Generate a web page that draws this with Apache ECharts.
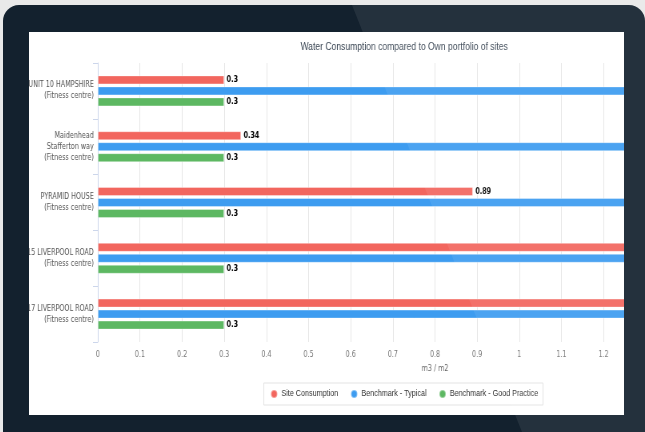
<!DOCTYPE html>
<html>
<head>
<meta charset="utf-8">
<script src="https://cdn.jsdelivr.net/npm/echarts@6/dist/echarts.min.js"></script>
<style>
  html, body { margin: 0; padding: 0; width: 645px; height: 432px; overflow: hidden; background: #e9e9e9; }
  #frame { position: absolute; left: 3px; top: 5px; width: 642px; height: 460px; background: #13212e; border-radius: 16px; }
  #panel { position: absolute; left: 29px; top: 32px; width: 595px; height: 383px; background: #fff; overflow: hidden; }
  #chart { position: absolute; left: 0; top: 0; width: 938px; height: 383px; transform: scaleX(0.8); transform-origin: 0 0; }
  #glare { position: absolute; left: 0; top: 0; width: 645px; height: 432px; pointer-events: none;
           background: rgba(255,255,255,0.075); clip-path: polygon(350px 0, 645px 0, 645px 432px, 522px 432px); }
</style>
</head>
<body>
<div id="frame"></div>
<div id="panel"><div id="chart"></div></div>
<div id="glare"></div>
<script>
const chartTitle = 'Water Consumption compared to Own portfolio of sites';
const categories = [
  'UNIT 10 HAMPSHIRE\n(Fitness centre)',
  'Maidenhead\nStafferton way\n(Fitness centre)',
  'PYRAMID HOUSE\n(Fitness centre)',
  '15 LIVERPOOL ROAD\n(Fitness centre)',
  '17 LIVERPOOL ROAD\n(Fitness centre)'
];
const seriesNames = ['Site Consumption', 'Benchmark - Typical', 'Benchmark - Good Practice'];
const siteConsumption = [0.3, 0.34, 0.89, 1.32, 1.45];
const benchmarkTypical = [1.5, 1.5, 1.5, 1.5, 1.5];
const benchmarkGoodPractice = [0.3, 0.3, 0.3, 0.3, 0.3];
const xAxisName = 'm3 / m2';
const xMin = 0, xMax = 1.6, xStep = 0.1;

const colors = ['#f2665e', '#3d9cf0', '#5db862'];
const labelFont = 'DejaVu Sans, Verdana, sans-serif';
const textFont = 'Liberation Sans, Arial, sans-serif';

const valueLabel = {
  show: true, position: 'right', distance: 3,
  color: '#000', fontWeight: 'bold', fontSize: 8, fontFamily: labelFont,
  textBorderColor: '#fff', textBorderWidth: 1
};
const barStyle = { borderColor: 'rgba(255,255,255,0.35)', borderWidth: 1 };

const chart = echarts.init(document.getElementById('chart'), null, { renderer: 'canvas' });
chart.setOption({
  animation: false,
  color: colors,
  title: {
    text: chartTitle, left: 'center', top: 5,
    textStyle: { color: '#3a4654', fontSize: 10.7, fontWeight: 'normal', fontFamily: textFont }
  },
  legend: {
    data: seriesNames, left: 'center', top: 351,
    icon: 'circle', itemWidth: 8, itemHeight: 8, itemGap: 15,
    borderColor: '#e3e3e3', borderWidth: 1, padding: [6, 6, 6, 8],
    textStyle: { color: '#333', fontSize: 9, fontFamily: textFont }
  },
  grid: { left: 86, right: 9, top: 31, bottom: 73, containLabel: false, outerBoundsMode: 'none' },
  xAxis: {
    type: 'value', min: xMin, max: xMax, interval: xStep,
    name: xAxisName, nameLocation: 'middle', nameGap: 23,
    nameTextStyle: { color: '#666', fontSize: 8, fontFamily: labelFont },
    axisLine: { show: false }, axisTick: { show: false },
    axisLabel: { color: '#777', fontSize: 8, margin: 9, fontFamily: labelFont,
      formatter: v => String(Math.round(v * 10) / 10) },
    splitLine: { show: true, lineStyle: { color: '#e6e6e6', width: 1 } }
  },
  yAxis: {
    type: 'category', data: categories, inverse: true,
    axisLine: { show: true, lineStyle: { color: '#ccd6eb' } },
    axisTick: { show: true, length: 6, lineStyle: { color: '#ccd6eb' } },
    axisLabel: { color: '#555', fontSize: 8, lineHeight: 11, margin: 5, fontFamily: labelFont },
    splitLine: { show: false }
  },
  series: [
    { name: seriesNames[0], type: 'bar', data: siteConsumption, barWidth: 9, barGap: '22%', label: valueLabel, itemStyle: barStyle },
    { name: seriesNames[1], type: 'bar', data: benchmarkTypical, barWidth: 9, barGap: '22%', itemStyle: barStyle },
    { name: seriesNames[2], type: 'bar', data: benchmarkGoodPractice, barWidth: 9, barGap: '22%', label: valueLabel, itemStyle: barStyle }
  ]
});
</script>
</body>
</html>
